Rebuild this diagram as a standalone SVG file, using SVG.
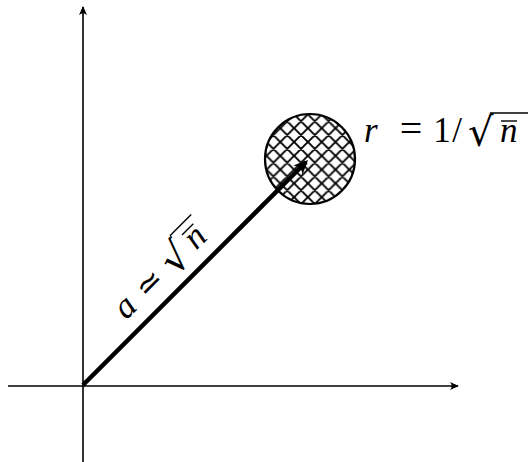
<svg xmlns="http://www.w3.org/2000/svg" width="528" height="462" viewBox="0 0 528 462">
<style>
.ax{stroke:#000;stroke-width:1.6;fill:none}
.m{font-family:'Liberation Serif','Times New Roman',serif;font-size:35px;fill:#000}
.i{font-style:italic}
.op{font-size:40px}
.op2{font-size:32px}
.rad{font-family:'DejaVu Serif',serif;font-size:40px}
.rule{stroke:#000;stroke-width:1.4}
</style>
<defs>
<marker id="ah" viewBox="0 0 10 10" refX="9" refY="5" markerWidth="9" markerHeight="9" markerUnits="userSpaceOnUse" orient="auto"><path d="M0,0.5 Q4,5 0,9.5 L10,5 Z" fill="#000"/></marker>
<marker id="ah2" viewBox="0 0 10 10" refX="8" refY="5" markerWidth="3.2" markerHeight="3.2" orient="auto"><path d="M0,0.5 Q4,5 0,9.5 L10,5 Z" fill="#000"/></marker>
<pattern id="hatch" width="13.8" height="13.8" patternUnits="userSpaceOnUse" x="4.3" y="4">
<path d="M0,0 L13.8,13.8 M0,13.8 L13.8,0 M-1,1 L1,-1 M12.8,14.8 L14.8,12.8 M-1,12.8 L1,14.8 M12.8,-1 L14.8,1" stroke="#000" stroke-width="1.9"/>
</pattern>
</defs>
<g id="connectors">
<line class="ax" x1="8" y1="386" x2="458" y2="386" marker-end="url(#ah)"/>
<line class="ax" x1="83" y1="462" x2="83" y2="7" marker-end="url(#ah)"/>
</g>
<g id="disk">
<circle cx="310" cy="159" r="45" fill="url(#hatch)" stroke="#000" stroke-width="2.2"/>
</g>
<g id="vector">
<line x1="83" y1="385" x2="306" y2="162" stroke="#000" stroke-width="4.5" marker-end="url(#ah2)"/>
</g>
<g id="label-r">
<text class="m"><tspan class="i" x="364" y="142">r</tspan><tspan class="op" x="411" y="142" text-anchor="middle">=</tspan><tspan x="442" y="142" text-anchor="middle">1</tspan><tspan x="457" y="142" text-anchor="middle">/</tspan><tspan class="rad" x="468" y="146">√</tspan><tspan class="i" x="500" y="142">n</tspan></text>
<line class="rule" x1="490" y1="113" x2="528" y2="113"/>
<line class="rule" x1="501" y1="121" x2="517" y2="121"/>
</g>
<g id="label-a">
<g transform="translate(83,385) rotate(-45)">
<text class="m"><tspan class="i" x="85" y="-15" text-anchor="middle">a</tspan><tspan class="op2" x="119" y="-15" text-anchor="middle">≃</tspan><tspan class="rad" x="142" y="-11">√</tspan><tspan class="i" x="175" y="-15">n</tspan></text>
<line class="rule" x1="167" y1="-44" x2="197" y2="-44"/>
<line class="rule" x1="176" y1="-36" x2="192" y2="-36"/>
</g>
</g>
</svg>
